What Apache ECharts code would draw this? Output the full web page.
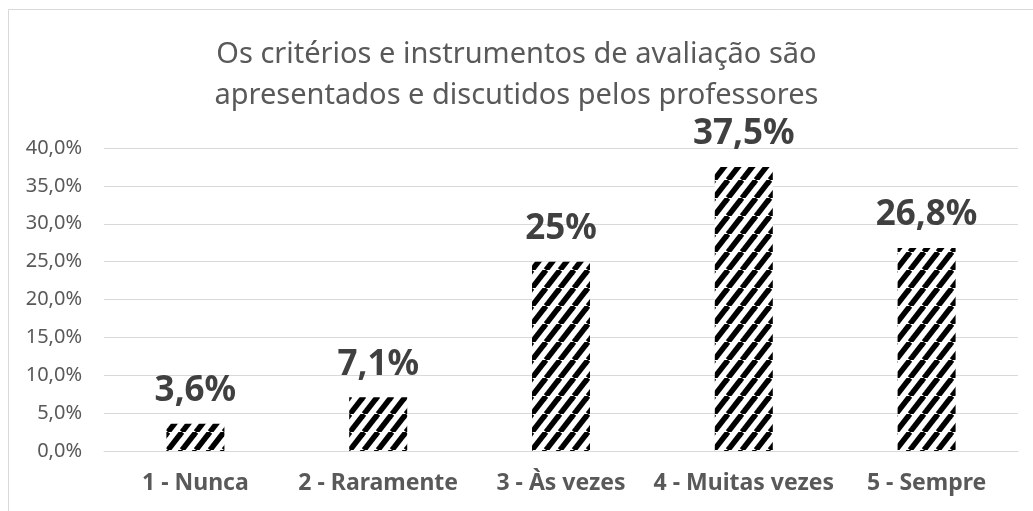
<!DOCTYPE html>
<html>
<head>
<meta charset="utf-8">
<script src="https://cdn.jsdelivr.net/npm/echarts@6/dist/echarts.min.js"></script>
<style>
  html, body { margin: 0; padding: 0; background: #fff; }
  #chart { width: 1033px; height: 511px; }
</style>
</head>
<body>
<div id="chart"></div>
<script>
// dados do gráfico
const categories = ['1 - Nunca', '2 - Raramente', '3 - Às vezes', '4 - Muitas vezes', '5 - Sempre']
const values = [3.6, 7.1, 25, 37.5, 26.8]
const valueLabels = ['3,6%', '7,1%', '25%', '37,5%', '26,8%']
const titleText = 'Os critérios e instrumentos de avaliação são\napresentados e discutidos pelos professores'

// padrão de listras diagonais
const makeStripes = () => {
  const w = 14, h = 18
  const c = document.createElement('canvas')
  c.width = w
  c.height = h
  const ctx = c.getContext('2d')
  ctx.fillStyle = '#fff'
  ctx.fillRect(0, 0, w, h)
  ctx.strokeStyle = '#000'
  ctx.lineWidth = 5.5
  for (let k = -1; k <= 1; k++) {
    ctx.beginPath()
    ctx.moveTo(k * w, h)
    ctx.lineTo(k * w + w, 0)
    ctx.stroke()
  }
  return c
}

const myChart = echarts.init(document.getElementById('chart'))
myChart.setOption({
  animation: false,
  backgroundColor: '#fff',
  textStyle: { fontFamily: 'Noto Sans' },
  title: {
    text: titleText,
    left: 'center',
    top: 29,
    textStyle: {
      fontFamily: 'Noto Sans',
      fontSize: 29,
      fontWeight: 'normal',
      color: '#595959',
      lineHeight: 41,
    },
  },
  graphic: [
    {
      type: 'rect',
      shape: { x: 8.5, y: 9.5, width: 1200, height: 700 },
      style: { fill: 'none', stroke: '#d9d9d9', lineWidth: 1 },
      silent: true,
    },
  ],
  grid: {
    left: 104,
    right: 15,
    top: 148,
    bottom: 60,
    containLabel: false,
  },
  xAxis: {
    type: 'category',
    data: categories,
    axisLine: { lineStyle: { color: '#d9d9d9' } },
    axisTick: { show: false },
    axisLabel: {
      interval: 0,
      color: '#595959',
      fontFamily: 'Noto Sans',
      fontWeight: 'bold',
      fontSize: 23,
      margin: 21,
    },
  },
  yAxis: {
    type: 'value',
    min: 0,
    max: 40,
    interval: 5,
    axisLine: { show: false },
    axisTick: { show: false },
    splitLine: { lineStyle: { color: '#d9d9d9', width: 1 } },
    axisLabel: {
      color: '#595959',
      fontFamily: 'Noto Sans',
      fontSize: 20,
      margin: 22,
      formatter: (v) => v.toFixed(1).replace('.', ',') + '%',
    },
  },
  series: [
    {
      type: 'bar',
      data: values,
      barWidth: 58,
      itemStyle: {
        color: { image: makeStripes(), repeat: 'repeat' },
      },
      label: {
        show: true,
        position: 'top',
        distance: 15,
        color: '#404040',
        fontFamily: 'Noto Sans',
        fontWeight: 'bold',
        fontSize: 35,
        formatter: (p) => valueLabels[p.dataIndex],
      },
    },
  ],
})
</script>
</body>
</html>
